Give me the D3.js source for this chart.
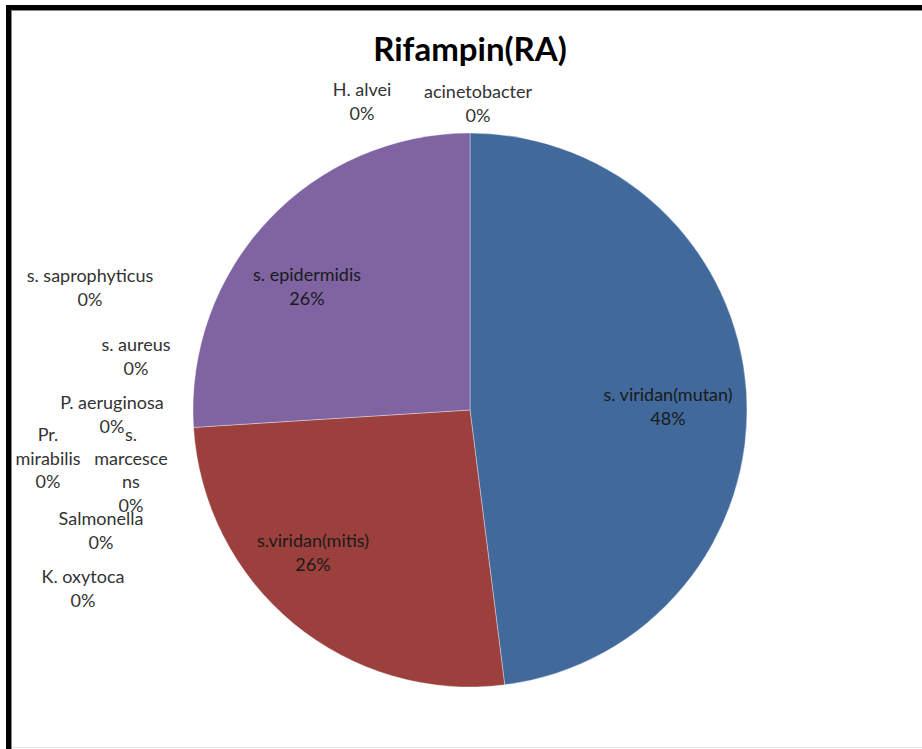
<!DOCTYPE html>
<html>
<head>
<meta charset="utf-8">
<script src="https://cdn.jsdelivr.net/npm/d3@7/dist/d3.min.js"></script>
<style>
  html, body { margin: 0; padding: 0; background: #fff; }
  svg { display: block; }
</style>
</head>
<body>
<svg id="chart" width="922" height="749"></svg>
<script>
// Isolates tested against rifampin (RA): share of each organism, in percent.
const categories = [
  "s. viridan(mutan)", "s.viridan(mitis)", "K. oxytoca", "Salmonella",
  "s. marcescens", "Pr. mirabilis", "P. aeruginosa", "s. aureus",
  "s. saprophyticus", "s. epidermidis", "H. alvei", "acinetobacter"
];
const values = [48, 26, 0, 0, 0, 0, 0, 0, 0, 26, 0, 0];
const sliceColors = {
  "s. viridan(mutan)": "#41699b",
  "s.viridan(mitis)": "#9c403d",
  "s. epidermidis": "#7f64a1"
};

// Label layout: wrapped lines and offsets from the pie centre.
const labelLayout = {
  "s. viridan(mutan)": { lines: ["s. viridan(mutan)"], dx: 198, dy: -15 },
  "s.viridan(mitis)":  { lines: ["s.viridan(mitis)"], dx: -157, dy: 131 },
  "s. epidermidis":    { lines: ["s. epidermidis"], dx: -163, dy: -135 },
  "H. alvei":          { lines: ["H. alvei"], dx: -108, dy: -320 },
  "acinetobacter":     { lines: ["acinetobacter"], dx: 8, dy: -318 },
  "s. saprophyticus":  { lines: ["s. saprophyticus"], dx: -380, dy: -134 },
  "s. aureus":         { lines: ["s. aureus"], dx: -334, dy: -65 },
  "P. aeruginosa":     { lines: ["P. aeruginosa"], dx: -358, dy: -7 },
  "Pr. mirabilis":     { lines: ["Pr.", "mirabilis"], dx: -422, dy: 25 },
  "s. marcescens":     { lines: ["s.", "marcesce", "ns"], dx: -339, dy: 25 },
  "Salmonella":        { lines: ["Salmonella"], dx: -369, dy: 109 },
  "K. oxytoca":        { lines: ["K. oxytoca"], dx: -387, dy: 167 }
};

const W = 922, H = 749;
const cx = 470, cy = 410, radius = 277;
const lineStep = 23.5;
const fontFamily = "Lato, 'Open Sans', 'Liberation Sans', sans-serif";

const svg = d3.select("#chart");

// Chart frame
svg.append("line").attr("x1", 8.5).attr("y1", 5).attr("x2", 8.5).attr("y2", H)
  .attr("stroke", "#000").attr("stroke-width", 5);
svg.append("line").attr("x1", 6).attr("y1", 7.5).attr("x2", W).attr("y2", 7.5)
  .attr("stroke", "#000").attr("stroke-width", 5);
svg.append("line").attr("x1", 11).attr("y1", 10.5).attr("x2", W).attr("y2", 10.5)
  .attr("stroke", "#888").attr("stroke-width", 1);
svg.append("line").attr("x1", 11.5).attr("y1", 10).attr("x2", 11.5).attr("y2", H)
  .attr("stroke", "#888").attr("stroke-width", 1);
svg.append("line").attr("x1", 12).attr("y1", 747.5).attr("x2", W).attr("y2", 747.5)
  .attr("stroke", "#e2e2e2").attr("stroke-width", 1);

// Title
svg.append("text")
  .attr("x", 470).attr("y", 61)
  .attr("text-anchor", "middle")
  .attr("font-family", fontFamily)
  .attr("font-weight", "bold")
  .attr("font-size", 33)
  .attr("fill", "#000")
  .text("Rifampin(RA)");

const data = categories.map((c, i) => ({ name: c, value: values[i] }));
const total = d3.sum(values);

const pie = d3.pie().sort(null).value(d => d.value);
const arc = d3.arc().innerRadius(0).outerRadius(radius);

const g = svg.append("g").attr("transform", `translate(${cx},${cy})`);

g.selectAll("path.slice")
  .data(pie(data).filter(d => d.data.value > 0))
  .join("path")
  .attr("class", "slice")
  .attr("d", arc)
  .attr("fill", d => sliceColors[d.data.name])
  .attr("stroke", "#ffffff")
  .attr("stroke-opacity", 0.35)
  .attr("stroke-width", 1);

// Data labels: name plus rounded percentage
const fmt = v => Math.round(v / total * 100) + "%";
const labels = g.selectAll("g.label")
  .data(data)
  .join("g")
  .attr("class", "label")
  .attr("transform", d => {
    const L = labelLayout[d.name];
    return `translate(${L.dx},${L.dy})`;
  });

labels.each(function(d) {
  const L = labelLayout[d.name];
  const inside = d.value > 0;
  const lines = L.lines.concat([fmt(d.value)]);
  const t = d3.select(this).append("text")
    .attr("text-anchor", "middle")
    .attr("font-family", fontFamily)
    .attr("font-size", 18)
    .attr("fill", inside ? "#1a1a1a" : "#333333");
  lines.forEach((s, i) => {
    t.append("tspan")
      .attr("x", 0)
      .attr("y", i * lineStep)
      .attr("dy", "0.35em")
      .text(s);
  });
});
</script>
</body>
</html>
